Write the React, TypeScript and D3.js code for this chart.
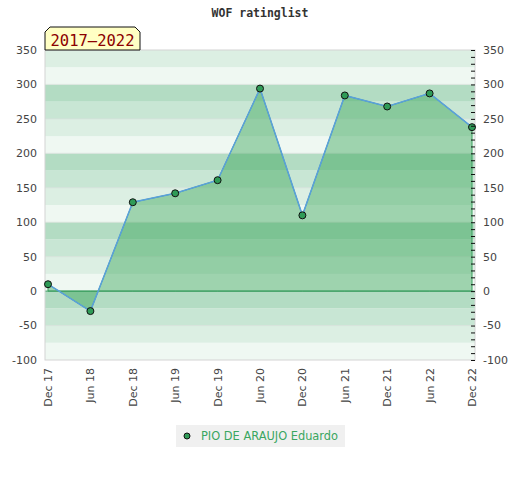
import { useEffect, useRef } from 'react';
import * as d3 from 'd3';

const periods = ['Dec 17', 'Jun 18', 'Dec 18', 'Jun 19', 'Dec 19', 'Jun 20', 'Dec 20', 'Jun 21', 'Dec 21', 'Jun 22', 'Dec 22'];
const ratings = [10, -29, 129, 142, 161, 294, 110, 284, 268, 287, 238];
const yTicks = [350, 300, 250, 200, 150, 100, 50, 0, -50, -100];
const playerName = 'PIO DE ARAUJO Eduardo';
const rangeLabel = '2017–2022';
const chartTitle = 'WOF ratinglist';

const W = 520;
const H = 480;
const FONT = '"DejaVu Sans", sans-serif';
const MONO = '"DejaVu Sans Mono", monospace';

// band colours, picked by floor(value / 25) mod 4
const bandColors = ['#eff8f2', '#dcefe3', '#c8e6d4', '#b3dcc3'];

const App = () => {
  const svgRef = useRef<SVGSVGElement>(null);

  useEffect(() => {
    if (!svgRef.current) return;
    const svg = d3.select(svgRef.current);
    svg.selectAll('*').remove();

    const left = 45, right = 475, top = 50, bottom = 360;

    const x = d3.scalePoint<string>()
      .domain(periods)
      .range([48, 472]);
    const y = d3.scaleLinear()
      .domain([-100, 350])
      .range([bottom, top]);

    // background bands
    const bands = d3.range(-100, 350, 25);
    svg.append('g')
      .selectAll('rect')
      .data(bands)
      .enter()
      .append('rect')
      .attr('x', left)
      .attr('width', right - left)
      .attr('y', d => y(d + 25))
      .attr('height', d => y(d) - y(d + 25))
      .attr('fill', d => bandColors[(((Math.floor(d / 25)) % 4) + 4) % 4]);

    // faint grid lines
    svg.append('g')
      .selectAll('line')
      .data(yTicks.filter(t => t !== 0 && t !== 350 && t !== -100))
      .enter()
      .append('line')
      .attr('x1', left)
      .attr('x2', right)
      .attr('y1', d => y(d))
      .attr('y2', d => y(d))
      .attr('stroke', '#d8dcd9')
      .attr('stroke-opacity', 0.5);

    const pts = periods.map((p, i) => ({ p, v: ratings[i] }));

    // area between line and zero
    const area = d3.area<{ p: string; v: number }>()
      .x(d => x(d.p)!)
      .y0(y(0))
      .y1(d => y(d.v));
    svg.append('path')
      .datum(pts)
      .attr('d', area)
      .attr('fill', '#32a254')
      .attr('fill-opacity', 0.43)
      .attr('stroke', '#3a9e5f')
      .attr('stroke-width', 1);

    // zero line
    svg.append('line')
      .attr('x1', left)
      .attr('x2', right)
      .attr('y1', y(0))
      .attr('y2', y(0))
      .attr('stroke', '#3a9e5f')
      .attr('stroke-width', 1);

    // plot frame
    svg.append('rect')
      .attr('x', left)
      .attr('y', top)
      .attr('width', right - left)
      .attr('height', bottom - top)
      .attr('fill', 'none')
      .attr('stroke', '#d4d4d4');

    // rating line
    const line = d3.line<{ p: string; v: number }>()
      .x(d => x(d.p)!)
      .y(d => y(d.v));
    svg.append('path')
      .datum(pts)
      .attr('d', line)
      .attr('fill', 'none')
      .attr('stroke', '#5aa0dc')
      .attr('stroke-width', 1.5);

    svg.append('g')
      .selectAll('circle')
      .data(pts)
      .enter()
      .append('circle')
      .attr('cx', d => x(d.p)!)
      .attr('cy', d => y(d.v))
      .attr('r', 3.5)
      .attr('fill', '#2f9b57')
      .attr('stroke', '#111')
      .attr('stroke-width', 1);

    // left axis labels
    svg.append('g')
      .selectAll('text')
      .data(yTicks)
      .enter()
      .append('text')
      .attr('x', 37)
      .attr('y', d => y(d))
      .attr('dy', '0.35em')
      .attr('text-anchor', 'end')
      .attr('font-family', FONT)
      .attr('font-size', 11)
      .attr('fill', '#444')
      .text(d => d);

    // right axis with minor ticks
    const rightAxis = d3.axisRight(y)
      .tickValues(d3.range(-100, 351, 10))
      .tickSize(0);
    const ra = svg.append('g')
      .attr('transform', `translate(${right},0)`)
      .call(rightAxis);
    ra.select('.domain').remove();
    ra.selectAll('text').remove();
    ra.selectAll('.tick')
      .append('line')
      .attr('x1', -4)
      .attr('x2', 0)
      .attr('stroke', '#111');

    svg.append('g')
      .selectAll('text')
      .data(yTicks)
      .enter()
      .append('text')
      .attr('x', 483)
      .attr('y', d => y(d))
      .attr('dy', '0.35em')
      .attr('text-anchor', 'start')
      .attr('font-family', FONT)
      .attr('font-size', 11)
      .attr('fill', '#444')
      .text(d => d);

    // x labels, rotated
    svg.append('g')
      .selectAll('text')
      .data(periods)
      .enter()
      .append('text')
      .attr('transform', d => `translate(${x(d)! + 4},368) rotate(-90)`)
      .attr('text-anchor', 'end')
      .attr('font-family', FONT)
      .attr('font-size', 11)
      .attr('fill', '#444')
      .text(d => d);

    // title
    svg.append('text')
      .attr('x', 260)
      .attr('y', 17)
      .attr('text-anchor', 'middle')
      .attr('font-family', MONO)
      .attr('font-weight', 'bold')
      .attr('font-size', 11.5)
      .attr('fill', '#333')
      .text(chartTitle);

    // period label box with clipped corners
    const bx0 = 45, bx1 = 140, by0 = 27, by1 = 50, c = 5;
    svg.append('path')
      .attr('d', `M${bx0},${by1} L${bx0},${by0 + c} L${bx0 + c},${by0} L${bx1 - c},${by0} L${bx1},${by0 + c} L${bx1},${by1} Z`)
      .attr('fill', '#ffffc4')
      .attr('stroke', '#111')
      .attr('stroke-width', 1);
    svg.append('text')
      .attr('x', (bx0 + bx1) / 2)
      .attr('y', 46)
      .attr('text-anchor', 'middle')
      .attr('font-family', MONO)
      .attr('font-size', 15.5)
      .attr('fill', '#8b0000')
      .text(rangeLabel);

    // legend
    svg.append('rect')
      .attr('x', 176)
      .attr('y', 425)
      .attr('width', 169)
      .attr('height', 22)
      .attr('fill', '#f0f0f0');
    svg.append('circle')
      .attr('cx', 187)
      .attr('cy', 436)
      .attr('r', 3)
      .attr('fill', '#2f9b57')
      .attr('stroke', '#111');
    svg.append('text')
      .attr('x', 201)
      .attr('y', 436)
      .attr('dy', '0.35em')
      .attr('font-family', FONT)
      .attr('font-size', 11.4)
      .attr('fill', '#3aa65f')
      .text(playerName);
  }, []);

  return (
    <svg
      ref={svgRef}
      width={W}
      height={H}
      style={{ display: 'block', position: 'absolute', left: 0, top: 0, background: '#fff' }}
    />
  );
};

export default App;
